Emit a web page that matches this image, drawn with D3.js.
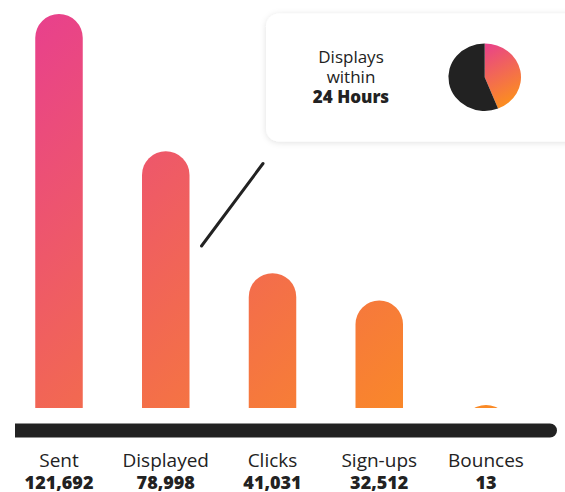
<!DOCTYPE html>
<html>
<head>
<meta charset="utf-8">
<script src="https://cdn.jsdelivr.net/npm/d3@7"></script>
<style>
  html, body { margin: 0; padding: 0; background: #fff; }
  svg { display: block; }
  text { font-family: "Open Sans", "DejaVu Sans", sans-serif; fill: #222; }
</style>
</head>
<body>
<svg id="chart" width="565" height="492"></svg>
<script>
// ---- data ----
const categories = ["Sent", "Displayed", "Clicks", "Sign-ups", "Bounces"];
const values = [121692, 78998, 41031, 32512, 13];
const valueLabels = ["121,692", "78,998", "41,031", "32,512", "13"];
const pieLabelLines = ["Displays", "within"];
const pieLabelBold = "24 Hours";
const pieShares = [0.44, 0.56]; // within 24h, rest

const W = 565, H = 492;
const svg = d3.select("#chart");
const defs = svg.append("defs");

// gradients
const g1 = defs.append("linearGradient").attr("id", "barGrad")
  .attr("gradientUnits", "userSpaceOnUse")
  .attr("x1", 40).attr("y1", 10).attr("x2", 420).attr("y2", 420);
g1.append("stop").attr("offset", "0%").attr("stop-color", "#e8408d");
g1.append("stop").attr("offset", "55%").attr("stop-color", "#f26852");
g1.append("stop").attr("offset", "100%").attr("stop-color", "#fa8a26");

const g2 = defs.append("linearGradient").attr("id", "pieGrad")
  .attr("x1", 0).attr("y1", 0).attr("x2", 0.3).attr("y2", 1);
g2.append("stop").attr("offset", "0%").attr("stop-color", "#e8408d");
g2.append("stop").attr("offset", "100%").attr("stop-color", "#fb8c22");

const shadow = defs.append("filter").attr("id", "shadow")
  .attr("x", "-20%").attr("y", "-30%").attr("width", "140%").attr("height", "160%");
shadow.append("feDropShadow").attr("dx", 0).attr("dy", 1).attr("stdDeviation", 3)
  .attr("flood-color", "#000").attr("flood-opacity", 0.12);

// scales
const baseY = 408;
const x = d3.scalePoint().domain(categories).range([59, 486]);
const y = d3.scaleLinear().domain([0, d3.max(values)]).range([405, 14]);
const barW = 47.5;

defs.append("clipPath").attr("id", "barClip")
  .append("rect").attr("x", 0).attr("y", 0).attr("width", W).attr("height", baseY);

// bars: rounded top, flat bottom
function barPath(cx, top) {
  const r = barW / 2;
  const x0 = cx - r, x1 = cx + r;
  const p = d3.path();
  p.moveTo(x0, baseY + 30);
  p.lineTo(x0, top + r);
  p.arc(cx, top + r, r, Math.PI, 0);
  p.lineTo(x1, baseY + 30);
  p.closePath();
  return p.toString();
}

svg.append("g").attr("clip-path", "url(#barClip)")
  .selectAll("path").data(categories).join("path")
  .attr("d", (c, i) => barPath(x(c), y(values[i])))
  .attr("fill", "url(#barGrad)");

// axis baseline bar (flat left, rounded right)
const axY = 423.5, axH = 14, axX0 = 15, axX1 = 557;
const ap = d3.path();
ap.moveTo(axX0, axY);
ap.lineTo(axX1 - axH / 2, axY);
ap.arc(axX1 - axH / 2, axY + axH / 2, axH / 2, -Math.PI / 2, Math.PI / 2);
ap.lineTo(axX0, axY + axH);
ap.closePath();
svg.append("path").attr("d", ap.toString()).attr("fill", "#222");

// labels
const lab = svg.append("g").selectAll("g").data(categories).join("g")
  .attr("transform", c => `translate(${x(c)},0)`);
lab.append("text").attr("y", 467).attr("text-anchor", "middle")
  .style("font-size", "19px").text(c => c);
lab.append("text").attr("y", 488.5).attr("text-anchor", "middle")
  .style("font-size", "18px").style("font-weight", 800)
  .text((c, i) => valueLabels[i]);

// connector line from Displayed bar to card
const cardX = 266, cardY = 13.5, cardH = 128;
const lx1 = x("Displayed") + barW / 2 + 12, ly1 = 246;
const lx2 = cardX - 3, ly2 = cardY + cardH + 22;
svg.append("line").attr("x1", lx1).attr("y1", ly1).attr("x2", lx2).attr("y2", ly2)
  .attr("stroke", "#222").attr("stroke-width", 3).attr("stroke-linecap", "round");

// card
svg.append("rect").attr("x", cardX).attr("y", cardY).attr("width", 330).attr("height", cardH)
  .attr("rx", 13).attr("fill", "#fff").attr("filter", "url(#shadow)");

const tx = 351;
svg.append("text").attr("x", tx).attr("y", 63).attr("text-anchor", "middle")
  .style("font-size", "17px").text(pieLabelLines[0]);
svg.append("text").attr("x", tx).attr("y", 82.5).attr("text-anchor", "middle")
  .style("font-size", "17px").text(pieLabelLines[1]);
svg.append("text").attr("x", tx).attr("y", 102.5).attr("text-anchor", "middle")
  .style("font-size", "17px").style("font-weight", 800).text(pieLabelBold);

// pie
const pie = d3.pie().sort(null).value(d => d);
const arc = d3.arc().innerRadius(0).outerRadius(36.3);
const pg = svg.append("g").attr("transform", "translate(484.7,77.2) scale(1,0.93)");
pg.selectAll("path").data(pie(pieShares)).join("path")
  .attr("d", arc)
  .attr("fill", (d, i) => i === 0 ? "url(#pieGrad)" : "#222");
</script>
</body>
</html>
